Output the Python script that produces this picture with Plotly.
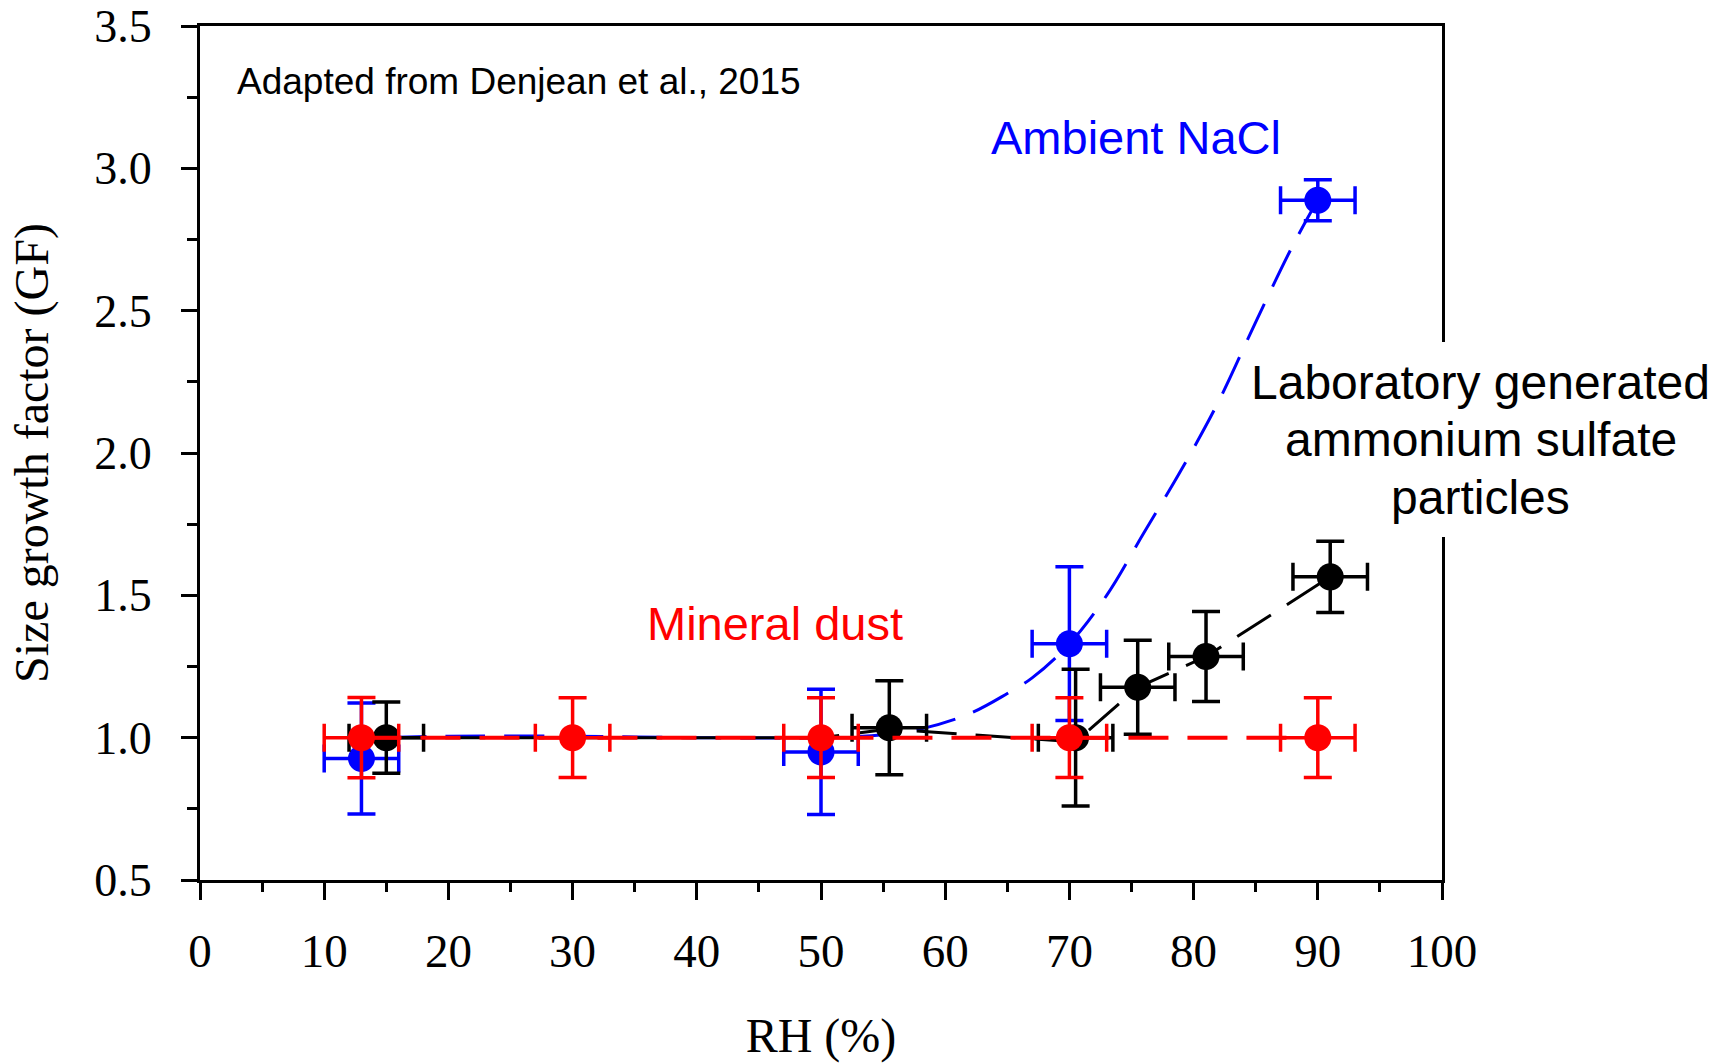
import plotly.graph_objects as go

# ---------------- data ----------------
rh_nacl = [13, 50, 70, 90]
gf_nacl = [0.927, 0.95, 1.33, 2.888]
gf_nacl_err = [0.195, 0.22, 0.27, 0.072]
rh_nacl_err = [3, 3, 3, 3]

rh_as = [15, 55.5, 70.5, 75.5, 81, 91]
gf_as = [1.0, 1.035, 1.0, 1.177, 1.285, 1.565]
gf_as_err = [0.125, 0.165, 0.24, 0.165, 0.158, 0.125]
rh_as_err = [3, 3, 3, 3, 3, 3]

rh_dust = [13, 30, 50, 70, 90]
gf_dust = [1.0, 1.0, 1.0, 1.0, 1.0]
gf_dust_err = [0.141, 0.14, 0.14, 0.14, 0.14]
rh_dust_err = [3, 3, 3, 3, 3]

# fitted curves
fit_nacl_x = [15, 20, 30, 40, 50, 55, 58, 62, 65, 67, 70, 73, 76, 79, 82, 85, 88, 90]
fit_nacl_y = [1.0, 1.005, 1.005, 1.0, 1.0, 1.01, 1.03, 1.085, 1.155, 1.21, 1.33, 1.50,
              1.72, 1.94, 2.18, 2.46, 2.73, 2.89]
fit_as_x = [15, 50, 55.5, 70.5, 75.5, 81, 91]
fit_as_y = [1.0, 1.0, 1.03, 0.985, 1.177, 1.285, 1.565]
fit_dust_x = [13, 90]
fit_dust_y = [1.0, 1.0]

y_ticks = [0.5, 1.0, 1.5, 2.0, 2.5, 3.0, 3.5]
y_ticktext = ["0.5", "1.0", "1.5", "2.0", "2.5", "3.0", "3.5"]
y_minor = [0.75, 1.25, 1.75, 2.25, 2.75, 3.25]
x_ticks = [0, 10, 20, 30, 40, 50, 60, 70, 80, 90, 100]

BLUE = "#0000ff"
RED = "#ff0000"
BLACK = "#000000"
DASH = "40px,19px"

fig = go.Figure()

fig.add_trace(go.Scatter(x=fit_nacl_x, y=fit_nacl_y, mode="lines", line_shape="spline",
                         line=dict(color=BLUE, width=3, dash=DASH), showlegend=False))
fig.add_trace(go.Scatter(x=fit_as_x, y=fit_as_y, mode="lines",
                         line=dict(color=BLACK, width=3, dash=DASH), showlegend=False))


def pts(x, y, ex, ey, color):
    return go.Scatter(
        x=x, y=y, mode="markers",
        marker=dict(color=color, size=27, line=dict(width=0)),
        error_y=dict(type="data", array=ey, color=color, thickness=3.5, width=14),
        error_x=dict(type="data", array=ex, color=color, thickness=3.5, width=14),
        showlegend=False)


fig.add_trace(pts(rh_nacl, gf_nacl, rh_nacl_err, gf_nacl_err, BLUE))
fig.add_trace(pts(rh_as, gf_as, rh_as_err, gf_as_err, BLACK))
fig.add_trace(go.Scatter(x=fit_dust_x, y=fit_dust_y, mode="lines",
                         line=dict(color=RED, width=4, dash=DASH), showlegend=False))
fig.add_trace(pts(rh_dust, gf_dust, rh_dust_err, gf_dust_err, RED))

W, H = 1720, 1063
L, R, T, B = 199.5, 1442, 26, 880


def px_x(p):
    return (p - L) / (R - L)


def px_y(p):
    return (B - p) / (B - T)


serif = "Liberation Serif"
sans = "Liberation Sans"

fig.update_layout(
    width=W, height=H,
    margin=dict(l=L, r=W - R, t=T, b=H - B, pad=0, autoexpand=False),
    paper_bgcolor="white", plot_bgcolor="white",
    xaxis=dict(range=[0, 100], tickvals=x_ticks, ticks="outside", ticklen=17, tickwidth=3,
               tickcolor=BLACK, showline=True, linewidth=3, linecolor=BLACK, mirror=True,
               showgrid=False, zeroline=False, ticklabeloverflow="allow", automargin=False,
               tickfont=dict(family=serif, size=47, color=BLACK), ticklabelstandoff=11,
               minor=dict(dtick=5, tick0=0, ticks="outside", ticklen=9, tickwidth=2.5,
                          tickcolor=BLACK, showgrid=False),
               title=dict(text="RH (%)", font=dict(family=serif, size=48, color=BLACK),
                          standoff=60)),
    yaxis=dict(range=[0.5, 3.5], tickvals=y_ticks, ticktext=y_ticktext, ticks="outside",
               ticklen=16, tickwidth=3, tickcolor=BLACK, showline=True, linewidth=3,
               linecolor=BLACK, mirror=True, showgrid=False, zeroline=False,
               ticklabeloverflow="allow", automargin=False,
               tickfont=dict(family=serif, size=46, color=BLACK), ticklabelstandoff=20,
               minor=dict(tickvals=y_minor, ticks="outside", ticklen=10, tickwidth=2.5,
                          tickcolor=BLACK, showgrid=False),
               title=dict(text="Size growth factor (GF)",
                          font=dict(family=serif, size=48, color=BLACK), standoff=31)),
    yaxis2=dict(range=[0.5, 3.5], overlaying="y", anchor="x", side="left",
                tickvals=y_minor, ticks="inside", ticklen=10, tickwidth=2.5, tickcolor=BLACK,
                showticklabels=False, showline=False, showgrid=False, zeroline=False,
                automargin=False),
)

# white box behind the laboratory label (hides right axis line)
fig.add_shape(type="rect", xref="paper", yref="paper",
              x0=px_x(1250), x1=px_x(1716), y0=px_y(537), y1=px_y(342),
              fillcolor="white", line=dict(width=0), layer="above")

ann = []
ann.append(dict(text="Adapted from Denjean et al., 2015", x=px_x(235), y=px_y(82),
                xanchor="left", yanchor="middle",
                font=dict(family=sans, size=37, color=BLACK)))
ann.append(dict(text="Ambient NaCl", x=px_x(1136), y=px_y(137), xanchor="center",
                yanchor="middle", font=dict(family=sans, size=47, color=BLUE)))
ann.append(dict(text="Mineral dust", x=px_x(775), y=px_y(623), xanchor="center",
                yanchor="middle", font=dict(family=sans, size=47, color=RED)))
lab_lines = ["Laboratory generated", "ammonium sulfate", "particles"]
for i, t in enumerate(lab_lines):
    ann.append(dict(text=t, x=px_x(1481), y=px_y(382 + 57.5 * i), xanchor="center",
                    yanchor="middle", font=dict(family=sans, size=48, color=BLACK)))
for a in ann:
    a.update(xref="paper", yref="paper", showarrow=False)
fig.update_layout(annotations=ann)

fig.write_html("out.html")
